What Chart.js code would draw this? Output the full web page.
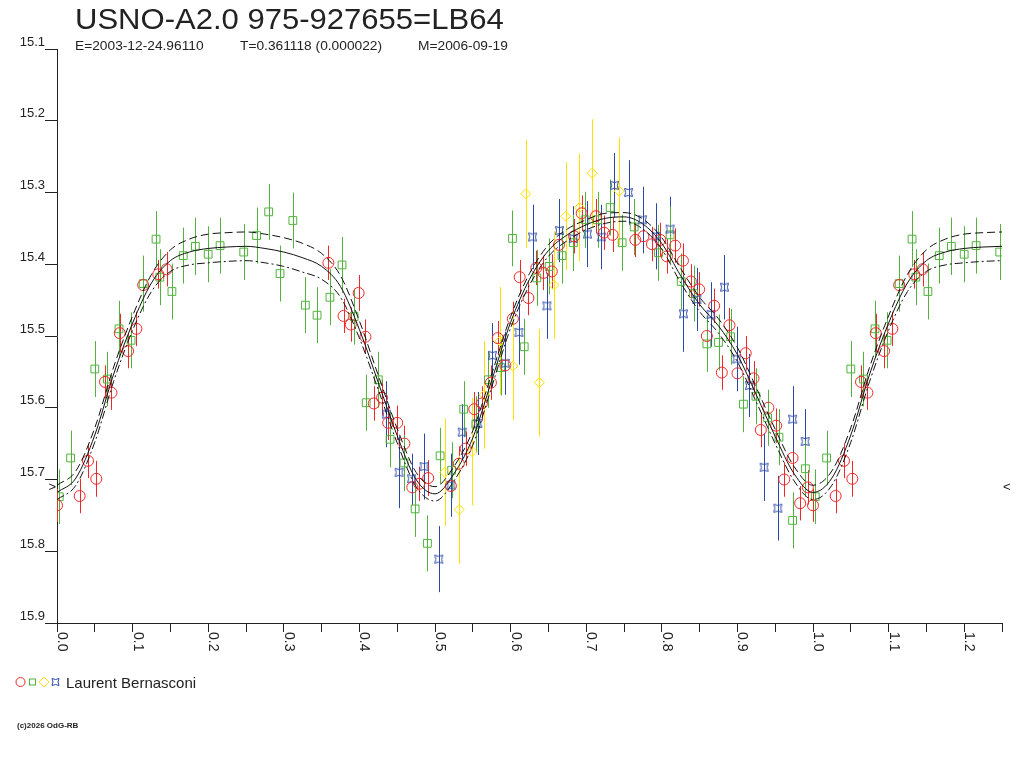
<!DOCTYPE html>
<html>
<head>
<meta charset="utf-8">
<script src="https://cdn.jsdelivr.net/npm/chart.js@4.4.0/dist/chart.umd.min.js"></script>
<style>
  body { margin: 0; background: #fff; }
  #wrap { position: relative; width: 1024px; height: 768px; font-family: "Liberation Sans", Arial, sans-serif; color: #222; }
  #c { position: absolute; left: 0; top: 0; }
  .t { position: absolute; white-space: pre; line-height: 1; transform-origin: 0 0; }
</style>
</head>
<body>
<div id="wrap">
  <canvas id="c" width="1024" height="768"></canvas>
  <div class="t" style="left:75px; top:5px; font-size:29px; transform:scaleX(1.07);">USNO-A2.0 975-927655=LB64</div>
  <div class="t" style="left:75px; top:40px; font-size:12.5px; transform:scaleX(1.1);">E=2003-12-24.96110</div>
  <div class="t" style="left:240px; top:40px; font-size:12.5px; transform:scaleX(1.1);">T=0.361118 (0.000022)</div>
  <div class="t" style="left:418px; top:40px; font-size:12.5px; transform:scaleX(1.1);">M=2006-09-19</div>
  <svg style="position:absolute; left:14px; top:674px;" width="50" height="16">
    <circle cx="6.5" cy="8" r="4.5" fill="none" stroke="#f02828" stroke-width="1"/>
    <rect x="15.5" y="5" width="6" height="6" fill="none" stroke="#50b43c" stroke-width="1"/>
    <path d="M25 8 L30 3 L35 8 L30 13 Z" fill="none" stroke="#ffe000" stroke-width="1"/>
    <path d="M38 4.5 Q41.5 6.5 45 4.5 Q43 8 45 11.5 Q41.5 9.5 38 11.5 Q40 8 38 4.5 Z" fill="none" stroke="#2c48a8" stroke-width="1"/>
  </svg>
  <div class="t" style="left:66px; top:675px; font-size:15px;">Laurent Bernasconi</div>
  <div class="t" style="left:17px; top:722px; font-size:8px; font-weight:bold;">(c)2026 OdG-RB</div>
</div>
<script>
// ----- observations (phase, magnitude, error) -----
const redPhase = [0.000,0.030,0.041,0.052,0.0635,0.072,0.083,0.094,0.105,0.114,0.134,0.145,
  0.359,0.379,0.3886,0.399,0.408,0.419,0.430,0.438,0.450,0.4595,0.470,0.479,0.491,
  0.521,0.5315,0.5405,0.552,0.562,0.574,0.583,0.593,0.603,0.612,0.6236,0.634,0.6435,0.6545,0.664,
  0.684,0.694,0.713,0.7237,0.735,0.765,0.7757,0.787,0.798,0.8067,0.8177,0.828,0.8384,0.8494,
  0.8596,0.8693,0.8794,0.8895,0.9001,0.911,0.9213,0.931,0.941,0.9513,0.962,0.973,0.983,0.9932];
const redMag = [15.736,15.723,15.674,15.699,15.564,15.579,15.496,15.521,15.490,15.429,15.414,15.407,
  15.398,15.472,15.484,15.440,15.501,15.594,15.586,15.621,15.621,15.650,15.711,15.706,15.698,
  15.709,15.678,15.657,15.602,15.594,15.565,15.503,15.541,15.476,15.418,15.447,15.405,15.412,15.410,15.373,
  15.361,15.329,15.333,15.356,15.359,15.366,15.361,15.372,15.366,15.389,15.374,15.395,15.424,15.435,
  15.500,15.458,15.551,15.485,15.552,15.524,15.559,15.631,15.600,15.625,15.700,15.670,15.733,15.711];
const redErr = [0.023,0.024,0.024,0.025,0.023,0.024,0.027,0.024,0.024,0.020,0.020,0.024,
  0.024,0.024,0.024,0.025,0.024,0.024,0.025,0.024,0.024,0.025,0.025,0.024,0.025,
  0.024,0.024,0.024,0.024,0.024,0.024,0.024,0.024,0.024,0.024,0.024,0.024,0.024,0.024,0.024,
  0.024,0.025,0.024,0.024,0.024,0.024,0.024,0.024,0.024,0.024,0.024,0.024,0.024,0.024,
  0.024,0.024,0.024,0.024,0.024,0.024,0.024,0.024,0.024,0.024,0.024,0.024,0.024,0.024];

const greenPhase = [0.003,0.018,0.050,0.0667,0.082,0.098,0.114,0.131,0.136,0.152,0.167,0.183,0.200,0.2157,
  0.247,0.264,0.280,0.295,0.312,0.3285,0.344,0.361,0.377,0.393,0.409,0.425,0.4406,0.459,0.4737,0.490,
  0.5068,0.522,0.538,0.554,0.5707,0.587,0.6025,0.618,0.6347,0.651,0.668,0.683,0.6986,0.715,0.7317,
  0.7476,0.7634,0.7956,0.811,0.8256,0.842,0.8596,0.875,0.891,0.908,0.9245,0.940,0.955,0.973,0.990];
const greenMag = [15.724,15.670,15.546,15.560,15.490,15.506,15.427,15.365,15.418,15.438,15.388,15.375,15.386,15.374,
  15.383,15.360,15.327,15.413,15.339,15.457,15.471,15.446,15.401,15.473,15.593,15.561,15.644,15.677,15.741,15.789,
  15.667,15.687,15.602,15.623,15.561,15.544,15.364,15.515,15.419,15.403,15.388,15.370,15.338,15.338,15.321,
  15.370,15.348,15.384,15.359,15.424,15.441,15.511,15.509,15.501,15.595,15.584,15.614,15.641,15.757,15.685];
const greenErr = [0.038,0.038,0.039,0.038,0.039,0.039,0.039,0.039,0.039,0.039,0.039,0.040,0.039,0.039,
  0.039,0.039,0.039,0.039,0.039,0.039,0.039,0.039,0.039,0.039,0.039,0.039,0.039,0.039,0.039,0.039,
  0.039,0.039,0.039,0.039,0.039,0.039,0.039,0.039,0.039,0.039,0.039,0.039,0.039,0.039,0.039,
  0.039,0.039,0.039,0.039,0.039,0.039,0.039,0.039,0.039,0.039,0.039,0.039,0.039,0.039,0.039];

const yellowPhase = [0.513,0.532,0.549,0.565,0.586,0.603,0.620,0.638,0.657,0.673,0.691,0.708,0.7436];
const yellowMag = [15.690,15.742,15.661,15.582,15.507,15.542,15.302,15.565,15.429,15.333,15.321,15.273,15.298];
const yellowErr = [0.075,0.075,0.075,0.075,0.075,0.075,0.075,0.075,0.075,0.075,0.075,0.075,0.075];

const bluePhase = [0.4357,0.4525,0.469,0.4856,0.505,0.521,0.536,0.5566,0.576,0.593,0.611,0.629,0.648,
  0.6646,0.683,0.7017,0.720,0.7374,0.756,0.7745,0.7925,0.811,0.8287,0.8464,0.865,0.8829,0.8993,
  0.916,0.9354,0.9535,0.973,0.9897];
const blueMag = [15.609,15.690,15.699,15.682,15.811,15.708,15.634,15.622,15.527,15.538,15.495,15.362,15.458,
  15.353,15.364,15.358,15.362,15.290,15.300,15.338,15.361,15.351,15.469,15.449,15.470,15.432,15.532,
  15.569,15.683,15.740,15.616,15.647];
const blueErr = [0.046,0.050,0.035,0.046,0.046,0.044,0.039,0.044,0.045,0.044,0.045,0.045,0.046,
  0.044,0.045,0.046,0.045,0.045,0.045,0.046,0.046,0.045,0.053,0.044,0.045,0.045,0.045,
  0.044,0.047,0.045,0.046,0.045];

// ----- fitted light curve and its band -----
const curvePhase = [0,0.025,0.05,0.075,0.1,0.125,0.15,0.175,0.2,0.225,0.25,0.275,0.3,0.325,0.35,0.375,
  0.4,0.425,0.45,0.475,0.5,0.525,0.55,0.575,0.6,0.625,0.65,0.675,0.7,0.725,0.75,0.775,0.8,0.825,
  0.85,0.875,0.9,0.925,0.95,0.975,1.0,1.025,1.05,1.075,1.1,1.125,1.15,1.175,1.2,1.225,1.25];
const curveMid = [15.718,15.698,15.638,15.553,15.482,15.426,15.395,15.383,15.378,15.376,15.375,15.378,15.383,15.391,15.403,15.431,
  15.491,15.565,15.639,15.700,15.720,15.692,15.642,15.562,15.481,15.421,15.381,15.359,15.345,15.336,15.334,15.344,15.371,15.416,
  15.456,15.486,15.526,15.582,15.640,15.692,15.718,15.698,15.638,15.553,15.482,15.426,15.395,15.383,15.378,15.376,15.375];
const curveHi = [15.708,15.688,15.628,15.543,15.472,15.414,15.380,15.365,15.358,15.356,15.355,15.358,15.363,15.371,15.385,15.416,
  15.479,15.555,15.629,15.690,15.710,15.682,15.632,15.553,15.473,15.413,15.373,15.351,15.338,15.329,15.328,15.337,15.363,15.406,
  15.446,15.476,15.516,15.572,15.630,15.682,15.708,15.688,15.628,15.543,15.472,15.414,15.380,15.365,15.358,15.356,15.355];
const curveLo = [15.728,15.708,15.648,15.563,15.492,15.438,15.410,15.401,15.398,15.396,15.395,15.398,15.403,15.411,15.421,15.446,
  15.503,15.575,15.649,15.710,15.730,15.702,15.652,15.571,15.489,15.429,15.389,15.367,15.352,15.343,15.340,15.351,15.379,15.426,
  15.466,15.496,15.536,15.592,15.650,15.702,15.728,15.708,15.648,15.563,15.492,15.438,15.410,15.401,15.398,15.396,15.395];

const minMark = 15.711;
const xLabels = ['0.0','0.1','0.2','0.3','0.4','0.5','0.6','0.7','0.8','0.9','1.0','1.1','1.2'];

const FONT = '"Liberation Sans", Arial, sans-serif';
Chart.defaults.font.family = FONT;

// points up to phase 0.25 are shown again one cycle later
function fold(ph, mag, err) {
  const pts = [], errs = [];
  ph.forEach((p, i) => {
    pts.push({x: p, y: mag[i]}); errs.push(err[i]);
    if (p < 0.25) { pts.push({x: p + 1, y: mag[i]}); errs.push(err[i]); }
  });
  return {pts, errs};
}

function curve(vals) {
  return curvePhase.map((p, i) => ({x: p, y: vals[i]}));
}

// blue marker: little square with pinched sides
const starImg = document.createElement('canvas');
starImg.width = 11; starImg.height = 11;
(function() {
  const g = starImg.getContext('2d');
  const c = 5.5, s = 4;
  g.strokeStyle = '#2c48a8';
  g.lineWidth = 1;
  g.beginPath();
  g.moveTo(c - s, c - s);
  g.quadraticCurveTo(c, c - s + 2.2, c + s, c - s);
  g.quadraticCurveTo(c + s - 2.2, c, c + s, c + s);
  g.quadraticCurveTo(c, c + s - 2.2, c - s, c + s);
  g.quadraticCurveTo(c - s + 2.2, c, c - s, c - s);
  g.closePath();
  g.stroke();
})();

const red = fold(redPhase, redMag, redErr);
const green = fold(greenPhase, greenMag, greenErr);
const yellow = fold(yellowPhase, yellowMag, yellowErr);
const blue = fold(bluePhase, blueMag, blueErr);

const errorBars = {
  id: 'errorBars',
  beforeDatasetsDraw(chart) {
    const {ctx, chartArea, scales: {x, y}} = chart;
    ctx.save();
    ctx.beginPath();
    ctx.rect(chartArea.left, chartArea.top, chartArea.width, chartArea.height);
    ctx.clip();
    ctx.lineWidth = 1;
    chart.data.datasets.forEach(ds => {
      if (!ds.errs) return;
      ctx.strokeStyle = ds.barColor;
      ds.data.forEach((p, j) => {
        const px = Math.round(x.getPixelForValue(p.x)) + 0.5;
        ctx.beginPath();
        ctx.moveTo(px, y.getPixelForValue(p.y - ds.errs[j]));
        ctx.lineTo(px, y.getPixelForValue(p.y + ds.errs[j]));
        ctx.stroke();
      });
    });
    ctx.restore();
  }
};

const axisText = {
  id: 'axisText',
  afterDraw(chart) {
    const {ctx, chartArea, scales: {x, y}} = chart;
    ctx.save();
    ctx.fillStyle = '#222';
    ctx.font = '14px ' + FONT;
    ctx.textAlign = 'left';
    ctx.textBaseline = 'alphabetic';
    xLabels.forEach(lbl => {
      const px = x.getPixelForValue(parseFloat(lbl));
      ctx.save();
      ctx.translate(px + 1, chartArea.bottom + 9);
      ctx.rotate(Math.PI / 2);
      ctx.fillText(lbl, 0, 0);
      ctx.restore();
    });
    // mean minimum marks on both sides
    const my = y.getPixelForValue(minMark);
    ctx.font = '13px ' + FONT;
    ctx.textBaseline = 'middle';
    ctx.textAlign = 'right';
    ctx.fillText('>', chartArea.left - 1, my);
    ctx.textAlign = 'left';
    ctx.fillText('<', chartArea.right + 1, my);
    ctx.restore();
  }
};

const lineDs = (vals, dash) => ({
  data: curve(vals), showLine: true, pointRadius: 0, borderColor: '#111', borderWidth: 1,
  borderDash: dash, tension: 0.4, cubicInterpolationMode: 'monotone', fill: false
});

new Chart(document.getElementById('c'), {
  type: 'scatter',
  data: {
    datasets: [
      lineDs(curveMid, []),
      lineDs(curveHi, [8, 4]),
      lineDs(curveLo, [8, 3, 2, 3]),
      { data: red.pts, errs: red.errs, barColor: '#f02828', pointStyle: 'circle', pointRadius: 5.5,
        borderColor: '#f02828', backgroundColor: 'rgba(0,0,0,0)', borderWidth: 1 },
      { data: blue.pts, errs: blue.errs, barColor: '#2c48a8', pointStyle: starImg, pointRadius: 4,
        borderColor: '#2c48a8', backgroundColor: 'rgba(0,0,0,0)', borderWidth: 1 },
      { data: yellow.pts, errs: yellow.errs, barColor: '#ffe000', pointStyle: 'rectRot', pointRadius: 5,
        borderColor: '#ffe000', backgroundColor: 'rgba(0,0,0,0)', borderWidth: 1 },
      { data: green.pts, errs: green.errs, barColor: '#50b43c', pointStyle: 'rect', pointRadius: 5.5,
        borderColor: '#50b43c', backgroundColor: 'rgba(0,0,0,0)', borderWidth: 1 }
    ]
  },
  options: {
    responsive: false,
    animation: false,
    events: [],
    layout: { padding: { left: 0, top: 49, right: 22, bottom: 135 } },
    plugins: { legend: { display: false }, tooltip: { enabled: false }, title: { display: false } },
    scales: {
      x: {
        type: 'linear', min: 0, max: 1.25,
        afterFit(s) { s.height = 10; },
        ticks: { display: false, stepSize: 0.05 },
        grid: { display: true, drawOnChartArea: false, drawTicks: true, tickLength: 9, color: '#222', lineWidth: 1 },
        border: { display: true, color: '#222', width: 1 }
      },
      y: {
        type: 'linear', min: 15.1, max: 15.9, reverse: true,
        afterFit(s) { s.width = 57; },
        ticks: { stepSize: 0.1, padding: 0, labelOffset: -7, color: '#222', font: { size: 13 },
          callback: v => v.toFixed(1) },
        grid: { display: true, drawOnChartArea: false, drawTicks: true, tickLength: 12, color: '#222', lineWidth: 1 },
        border: { display: true, color: '#222', width: 1 }
      }
    }
  },
  plugins: [errorBars, axisText]
});
</script>
</body>
</html>
